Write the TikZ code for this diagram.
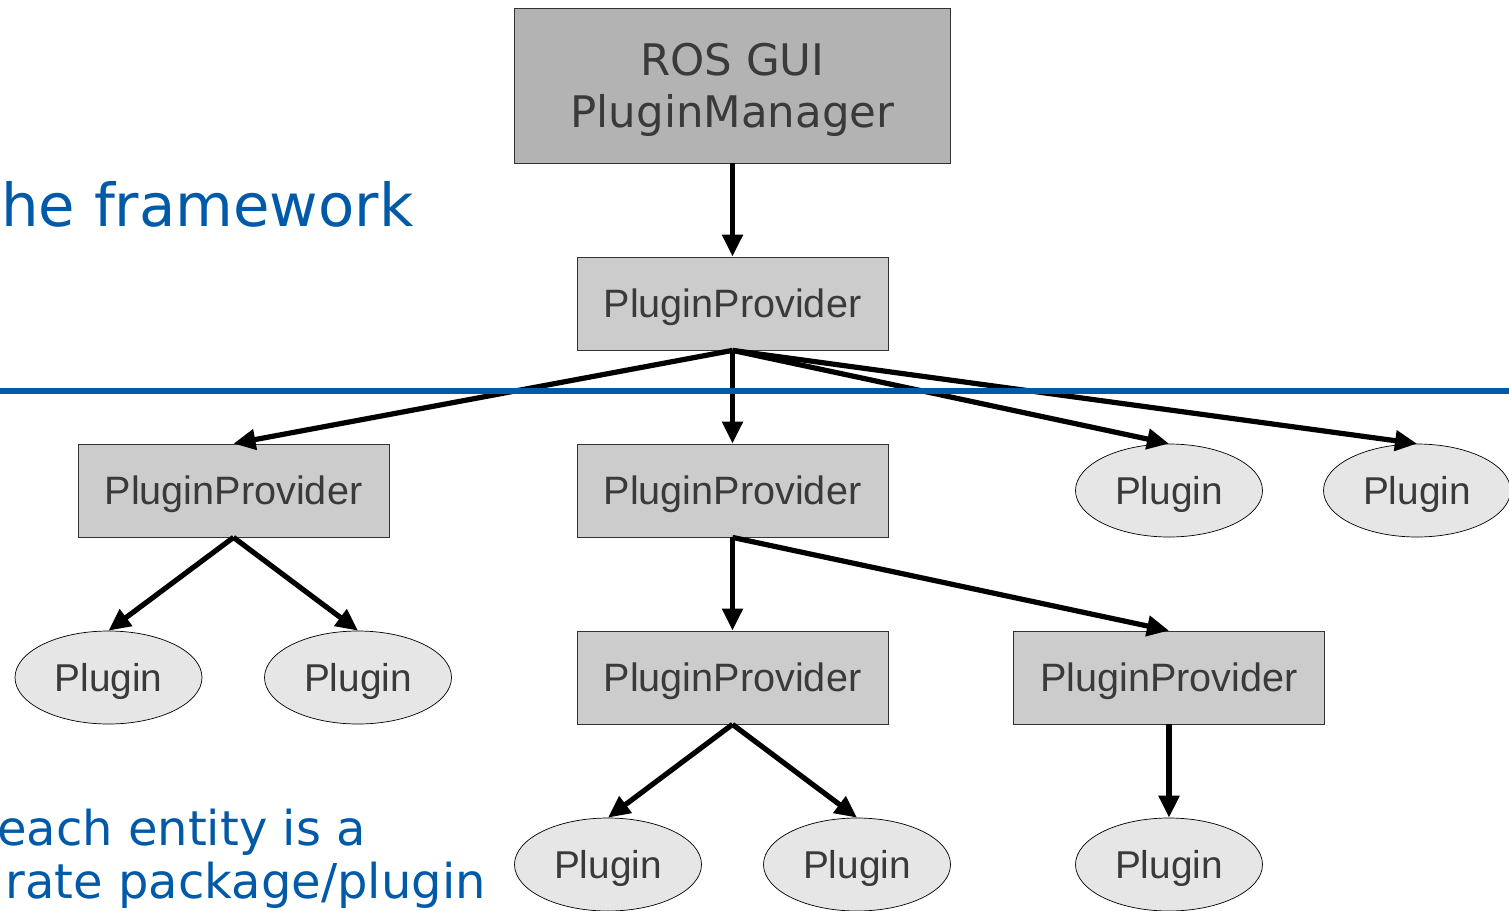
\documentclass[tikz,border=0pt]{standalone}
\usepackage{fontspec}
\setmainfont{Liberation Sans}
\newfontfamily\dejavu{DejaVu Sans}
\usetikzlibrary{shapes.geometric,arrows.meta}
\definecolor{mgrfill}{HTML}{B3B3B3}
\definecolor{ppfill}{HTML}{CCCCCC}
\definecolor{plfill}{HTML}{E6E6E6}
\definecolor{nodetext}{HTML}{3A3A3A}
\definecolor{rosblue}{RGB}{0,90,168}
\tikzset{
  mgrbox/.style={draw=black!80, line width=0.8pt, fill=mgrfill, text=nodetext,
    minimum width=436pt, minimum height=155pt, inner sep=0pt, align=center,
    text depth=0pt, font=\dejavu\fontsize{43.5}{52}\selectfont},
  ppbox/.style={draw=black!80, line width=0.8pt, fill=ppfill, text=nodetext,
    minimum width=311pt, minimum height=93pt, inner sep=0pt, text depth=0pt,
    font=\fontsize{39.6}{46}\selectfont},
  plugell/.style={ellipse, draw=black, line width=0.7pt, fill=plfill, text=nodetext,
    minimum width=187pt, minimum height=93pt, inner sep=0pt, text depth=0pt,
    font=\fontsize{38.8}{46}\selectfont},
  conn/.style={line width=5.2pt, -{Triangle[length=22pt,width=20pt]}},
  bluetext/.style={text=rosblue, inner sep=0pt, font=\dejavu\fontsize{#1}{#1}\selectfont},
}
\begin{document}
\begin{tikzpicture}[x=1pt,y=-1pt]
\useasboundingbox (0,0) rectangle (1509,910);
\clip (0,0) rectangle (1509,910);
% nodes
\node[mgrbox] (mgr) at (732.5,85.5) {ROS GUI\\PluginManager};
\node[ppbox] (pp0) at (732.5,303.5) {PluginProvider};
\node[ppbox] (ppL) at (233.5,490.5) {PluginProvider};
\node[ppbox] (ppM) at (732.5,490.5) {PluginProvider};
\node[plugell] (plA) at (1169,490.5) {Plugin};
\node[plugell] (plB) at (1417,490.5) {Plugin};
\node[plugell] (plC) at (108.5,677.5) {Plugin};
\node[plugell] (plD) at (358,677.5) {Plugin};
\node[ppbox] (ppMM) at (732.5,677.5) {PluginProvider};
\node[ppbox] (ppR) at (1169,677.5) {PluginProvider};
\node[plugell] (plE) at (608,864.5) {Plugin};
\node[plugell] (plF) at (857,864.5) {Plugin};
\node[plugell] (plG) at (1169,864.5) {Plugin};
% connectors
\draw[conn] (mgr.south) -- (pp0.north);
\draw[conn] (pp0.south) -- (ppL.north);
\draw[conn] (pp0.south) -- (ppM.north);
\draw[conn] (pp0.south) -- (plA.north);
\draw[conn] (pp0.south) -- (plB.north);
\draw[conn] (ppL.south) -- (plC.north);
\draw[conn] (ppL.south) -- (plD.north);
\draw[conn] (ppM.south) -- (ppMM.north);
\draw[conn] (ppM.south) -- (ppR.north);
\draw[conn] (ppMM.south) -- (plE.north);
\draw[conn] (ppMM.south) -- (plF.north);
\draw[conn] (ppR.south) -- (plG.north);
% blue separator
\coordinate (sepL) at (0,390.5);
\coordinate (sepR) at (1509,390.5);
\draw[rosblue, line width=6pt] (sepL) -- (sepR);
% blue texts
\node[bluetext=59.3, anchor=base west] (t1) at (1,226) {he framework};
\node[bluetext=48, anchor=base west] (t2) at (-3,845) {each entity is a};
\node[bluetext=48, anchor=base east] (t3) at (486,898) {rate package/plugin};
\end{tikzpicture}
\end{document}
